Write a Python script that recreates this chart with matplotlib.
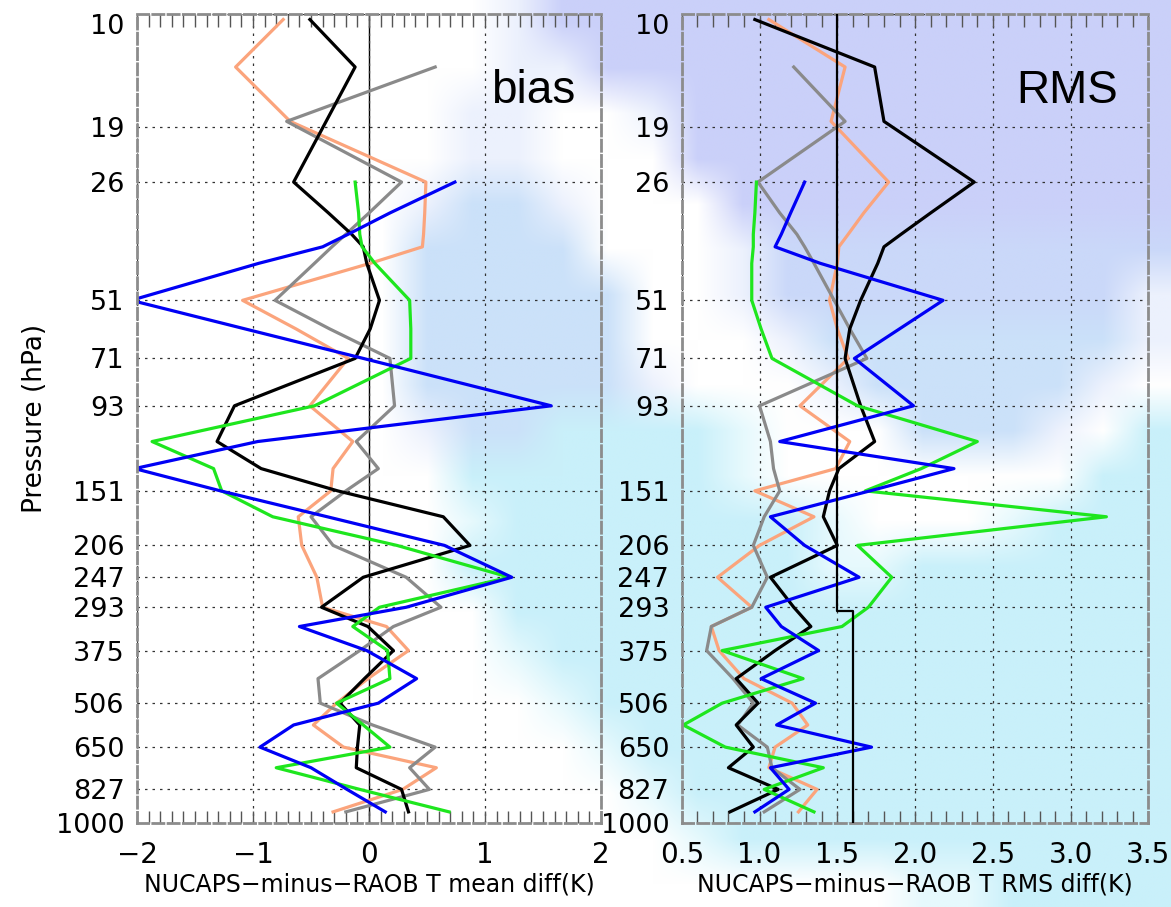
import numpy as np
import matplotlib.pyplot as plt
from matplotlib.ticker import NullLocator

# pressure levels (hPa) where the profiles have vertices
pres = [10.3, 13.5, 18.4, 26, 31, 35, 37.6, 41.3, 51, 60, 71, 93, 114, 133, 151,
        175, 206, 247, 293, 327, 375, 440, 506, 573, 650, 731, 827, 940]

nan = np.nan

# mean difference (bias), K
bias_black = [-0.51, -0.12, -0.37, -0.65, -0.35, -0.15, -0.05, -0.02, 0.09, 0.01, -0.12, -1.16, -1.31, -0.93,
              -0.27, 0.64, 0.87, -0.05, -0.41, -0.01, 0.21, -0.04, -0.25, -0.08, -0.10, -0.11, 0.28, 0.34]
bias_orange = [-0.74, -1.15, -0.68, 0.49, 0.48, 0.47, 0.46, 0.01, -1.09, -0.63, -0.18, -0.51, -0.14, -0.31,
               -0.33, -0.61, -0.58, -0.45, -0.40, 0.15, 0.34, -0.01, -0.28, -0.48, -0.22, 0.58, 0.29, -0.31]
bias_gray = [nan, 0.57, -0.71, 0.28, 0.0, -0.20, -0.32, -0.47, -0.81, -0.34, 0.18, 0.22, -0.11, 0.08,
             -0.20, -0.50, -0.31, 0.32, 0.62, 0.21, -0.08, -0.44, -0.42, 0.03, 0.57, 0.35, 0.52, -0.20]
bias_green = [nan, nan, nan, -0.12, -0.09, -0.08, -0.06, 0.05, 0.35, 0.36, 0.36, -0.47, -1.87, -1.34,
              -1.27, -0.83, 0.24, 1.21, 0.09, -0.14, 0.16, 0.18, -0.28, -0.05, 0.18, -0.80, -0.08, 0.69]
bias_blue = [nan, nan, nan, 0.74, 0.18, -0.18, -0.40, -0.95, -2.05, -1.07, -0.05, 1.57, -0.96, -2.02,
             -1.28, -0.36, 0.65, 1.23, 0.32, -0.60, -0.02, 0.41, 0.08, -0.65, -0.94, -0.50, -0.19, 0.14]

# RMS difference, K
rms_black = [0.97, 1.74, 1.80, 2.38, 2.10, 1.91, 1.80, 1.76, 1.65, 1.58, 1.55, 1.65, 1.74, 1.51,
             1.45, 1.41, 1.50, 1.07, 1.22, 1.33, 1.10, 0.85, 0.99, 0.85, 0.96, 0.80, 1.12, 0.81]
rms_orange = [1.06, 1.55, 1.46, 1.83, 1.67, 1.57, 1.51, 1.50, 1.45, 1.50, 1.57, 1.26, 1.58, 1.49,
              0.97, 1.35, 1.00, 0.73, 0.95, 0.69, 0.74, 0.90, 1.21, 1.31, 1.10, 1.06, 1.37, 1.25]
rms_gray = [nan, 1.22, 1.55, 0.99, 1.13, 1.24, 1.29, 1.35, 1.48, 1.58, 1.69, 1.00, 1.07, 1.09,
            1.13, 1.03, 0.96, 1.05, 0.95, 0.69, 0.66, 0.83, 0.96, 0.86, 1.05, 1.08, 1.26, 1.03]
rms_green = [nan, nan, nan, 0.98, 0.97, 0.96, 0.96, 0.95, 0.95, 1.01, 1.08, 1.63, 2.40, 2.04,
             1.68, 3.23, 1.63, 1.85, 1.70, 1.53, 0.76, 1.28, 0.76, 0.51, 0.78, 1.41, 1.03, 1.35]
rms_blue = [nan, nan, nan, 1.29, 1.20, 1.14, 1.10, 1.39, 2.18, 1.90, 1.61, 1.99, 1.13, 2.25,
            1.71, 1.07, 1.29, 1.64, 1.04, 1.14, 1.38, 1.01, 1.36, 1.11, 1.72, 1.07, 1.19, 0.97]

# reference step line on the RMS panel
ref_x = [1.5, 1.5, 1.6, 1.6]
ref_p = [10, 300, 300, 1000]

levels = [10, 19, 26, 51, 71, 93, 151, 206, 247, 293, 375, 506, 650, 827, 1000]

# background imagery, coarse cells (rows top -> bottom)
bg_rows = [
    "...........pllllllllllllll",
    "...........pplllllllllllll",
    "..........pp..plllllllllll",
    "..........pp...lllllllllll",
    ".........pbbp...llllllllll",
    ".........bbbb...pmmmmmmmmm",
    ".........bbbbb..pmmmmmmmmp",
    ".........bbbbb...pbbbbbbbp",
    ".........bbbbbp...pbbbbbp.",
    ".........pbbccccq...bbbp.c",
    "..........ccccccq.......cc",
    "..........qcccccccq...qccc",
    "..........ccccccccqqcccccc",
    "...........ccccccccccccccc",
    "...........qcccccccccccccc",
    "............qccccccccccccc",
    ".............qcccccccccccc",
    "..............qccccccccccc",
    "...............qcccccccccc",
    "....................qqcccc",
]
bg_colors = {'.': (255, 255, 255), 'p': (236, 241, 253), 'q': (230, 249, 253),
             'l': (202, 208, 249), 'm': (202, 216, 249), 'b': (203, 225, 249),
             'c': (201, 240, 250)}

colors = {'black': 'black', 'orange': '#FBA47C', 'gray': '#8A8A8A',
          'green': '#1EE61E', 'blue': '#0000F5'}

fig = plt.figure(figsize=(11.71, 9.07), dpi=100)

img = np.array([[bg_colors[ch] for ch in row.ljust(26, '.')[:26]] for row in bg_rows]) / 255.0
bg = fig.add_axes([0, 0, 1, 1], zorder=-10)
bg.imshow(img, aspect='auto', interpolation='bilinear', extent=[0, 1, 0, 1])
bg.axis('off')

ax1 = fig.add_axes([0.117, 0.0929, 0.3963, 0.8913])
ax2 = fig.add_axes([0.5822, 0.0929, 0.3985, 0.8913])

lw = 2.3
ax1.axvline(0, color='black', lw=1.0, zorder=1)
ax1.plot(bias_orange, pres, color=colors['orange'], lw=lw)
ax1.plot(bias_gray, pres, color=colors['gray'], lw=lw)
ax1.plot(bias_black, pres, color=colors['black'], lw=lw)
ax1.plot(bias_green, pres, color=colors['green'], lw=lw)
ax1.plot(bias_blue, pres, color=colors['blue'], lw=lw)

ax2.plot(rms_orange, pres, color=colors['orange'], lw=lw)
ax2.plot(rms_gray, pres, color=colors['gray'], lw=lw)
ax2.plot(rms_black, pres, color=colors['black'], lw=lw)
ax2.plot(rms_green, pres, color=colors['green'], lw=lw)
ax2.plot(rms_blue, pres, color=colors['blue'], lw=lw)
ax2.plot(ref_x, ref_p, color='black', lw=1.6, zorder=5)

ax1.set_xlim(-2, 2)
ax1.set_xticks([-2, -1, 0, 1, 2])
ax1.set_xticklabels(['\u22122', '\u22121', '0', '1', '2'])
ax1.set_xticks(np.arange(-2, 2.001, 0.1), minor=True)
ax1.set_xlabel('NUCAPS\u2212minus\u2212RAOB T mean diff(K)', fontsize=17, labelpad=3)
ax1.set_ylabel('Pressure (hPa)', fontsize=19, labelpad=6)

ax2.set_xlim(0.5, 3.5)
ax2.set_xticks([0.5, 1.0, 1.5, 2.0, 2.5, 3.0, 3.5])
ax2.set_xticklabels(['0.5', '1.0', '1.5', '2.0', '2.5', '3.0', '3.5'])
ax2.set_xticks(np.arange(0.5, 3.501, 0.1), minor=True)
ax2.set_xlabel('NUCAPS\u2212minus\u2212RAOB T RMS diff(K)', fontsize=17, labelpad=3)

for ax in (ax1, ax2):
    ax.set_facecolor('none')
    ax.set_yscale('log')
    ax.set_ylim(1000, 10)
    ax.set_yticks(levels)
    ax.set_yticklabels([str(v) for v in levels])
    ax.yaxis.set_minor_locator(NullLocator())
    ax.tick_params(axis='y', which='both', length=0, pad=9, labelsize=19.5)
    ax.tick_params(axis='x', which='both', direction='in', top=True, bottom=True,
                   length=9, width=1.0, color='#555555', pad=13, labelsize=20)
    ax.grid(True, which='major', color='#333333', lw=0.9, linestyle=(0, (2, 4)))
    for s in ax.spines.values():
        s.set_color('#8C8C8C')
        s.set_linewidth(2.0)
        s.set_linestyle((0, (4, 1.5)))
    # top label sits inside the frame, as in the original
    ax.get_yticklabels()[0].set_va('top')

ax1.text(0.944, 0.89, 'bias', transform=ax1.transAxes, ha='right', va='baseline',
         fontsize=33, family='Liberation Sans')
ax2.text(0.935, 0.89, 'RMS', transform=ax2.transAxes, ha='right', va='baseline',
         fontsize=33, family='Liberation Sans')

fig.savefig('out.png', dpi=100)
